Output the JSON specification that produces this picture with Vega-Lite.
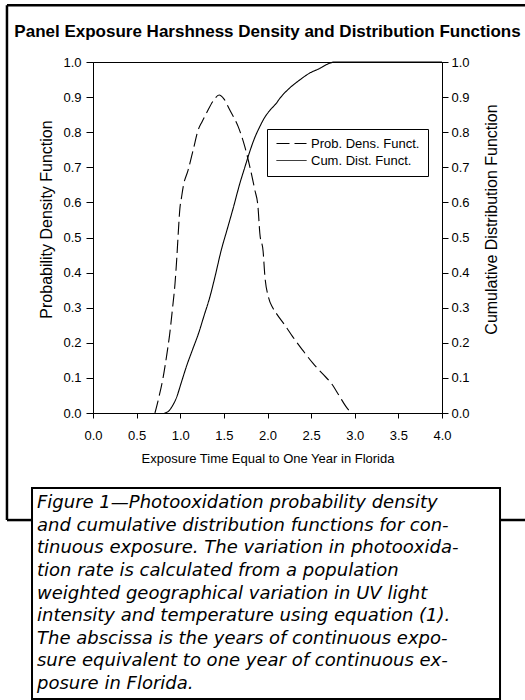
{
  "$schema": "https://vega.github.io/schema/vega-lite/v6.json",
  "width": 349,
  "height": 351,
  "autosize": {"type": "none"},
  "padding": {"left": 93, "top": 62, "right": 83, "bottom": 287},
  "background": "white",
  "config": {
    "font": "Liberation Sans",
    "view": {"stroke": "black", "strokeWidth": 1},
    "axis": {
      "domainColor": "black", "tickColor": "black", "labelColor": "black", "titleColor": "black",
      "grid": false, "labelFontSize": 13, "titleFontSize": 13, "titleFontWeight": "normal",
      "labelFont": "Liberation Sans", "titleFont": "Liberation Sans", "labelFlush": false, "labelOverlap": false
    },
    "legend": {
      "orient": "none", "legendX": 174, "legendY": 67, "strokeColor": "black", "fillColor": "white",
      "padding": 8, "symbolType": "M-1,0H5", "symbolSize": 100, "symbolStrokeWidth": 1,
      "symbolStrokeColor": "black", "symbolFillColor": "transparent", "labelFontSize": 13, "labelFont": "Liberation Sans",
      "labelColor": "black", "labelOffset": 23, "rowPadding": 3
    }
  },
  "title": {
    "text": "Panel Exposure Harshness Density and Distribution Functions",
    "fontSize": 17, "fontWeight": "bold", "font": "Liberation Sans", "anchor": "middle",
    "frame": "group", "offset": -37, "color": "black"
  },
  "datasets": {
    "curves": [
      {"series": "Prob. Dens. Funct.", "t": 0.71, "value": 0.0},
      {"series": "Prob. Dens. Funct.", "t": 0.76, "value": 0.05},
      {"series": "Prob. Dens. Funct.", "t": 0.805, "value": 0.103},
      {"series": "Prob. Dens. Funct.", "t": 0.845, "value": 0.165},
      {"series": "Prob. Dens. Funct.", "t": 0.88, "value": 0.227},
      {"series": "Prob. Dens. Funct.", "t": 0.91, "value": 0.295},
      {"series": "Prob. Dens. Funct.", "t": 0.94, "value": 0.369},
      {"series": "Prob. Dens. Funct.", "t": 0.96, "value": 0.44},
      {"series": "Prob. Dens. Funct.", "t": 0.977, "value": 0.512},
      {"series": "Prob. Dens. Funct.", "t": 0.996, "value": 0.583},
      {"series": "Prob. Dens. Funct.", "t": 1.015, "value": 0.615},
      {"series": "Prob. Dens. Funct.", "t": 1.034, "value": 0.645},
      {"series": "Prob. Dens. Funct.", "t": 1.09, "value": 0.692},
      {"series": "Prob. Dens. Funct.", "t": 1.148, "value": 0.749},
      {"series": "Prob. Dens. Funct.", "t": 1.205, "value": 0.806},
      {"series": "Prob. Dens. Funct.", "t": 1.25, "value": 0.83},
      {"series": "Prob. Dens. Funct.", "t": 1.3, "value": 0.854},
      {"series": "Prob. Dens. Funct.", "t": 1.38, "value": 0.89},
      {"series": "Prob. Dens. Funct.", "t": 1.446, "value": 0.906},
      {"series": "Prob. Dens. Funct.", "t": 1.5, "value": 0.895},
      {"series": "Prob. Dens. Funct.", "t": 1.568, "value": 0.863},
      {"series": "Prob. Dens. Funct.", "t": 1.664, "value": 0.816},
      {"series": "Prob. Dens. Funct.", "t": 1.74, "value": 0.759},
      {"series": "Prob. Dens. Funct.", "t": 1.797, "value": 0.702},
      {"series": "Prob. Dens. Funct.", "t": 1.855, "value": 0.635},
      {"series": "Prob. Dens. Funct.", "t": 1.89, "value": 0.59},
      {"series": "Prob. Dens. Funct.", "t": 1.912, "value": 0.512},
      {"series": "Prob. Dens. Funct.", "t": 1.95, "value": 0.46},
      {"series": "Prob. Dens. Funct.", "t": 1.97, "value": 0.39},
      {"series": "Prob. Dens. Funct.", "t": 2.01, "value": 0.331},
      {"series": "Prob. Dens. Funct.", "t": 2.06, "value": 0.3},
      {"series": "Prob. Dens. Funct.", "t": 2.1, "value": 0.284},
      {"series": "Prob. Dens. Funct.", "t": 2.2, "value": 0.25},
      {"series": "Prob. Dens. Funct.", "t": 2.29, "value": 0.217},
      {"series": "Prob. Dens. Funct.", "t": 2.4, "value": 0.18},
      {"series": "Prob. Dens. Funct.", "t": 2.52, "value": 0.142},
      {"series": "Prob. Dens. Funct.", "t": 2.63, "value": 0.112},
      {"series": "Prob. Dens. Funct.", "t": 2.73, "value": 0.085},
      {"series": "Prob. Dens. Funct.", "t": 2.82, "value": 0.05},
      {"series": "Prob. Dens. Funct.", "t": 2.9, "value": 0.018},
      {"series": "Prob. Dens. Funct.", "t": 2.96, "value": 0.0},
      {"series": "Cum. Dist. Funct.", "t": 0.82, "value": 0.0},
      {"series": "Cum. Dist. Funct.", "t": 0.86, "value": 0.004},
      {"series": "Cum. Dist. Funct.", "t": 0.91, "value": 0.02},
      {"series": "Cum. Dist. Funct.", "t": 0.96, "value": 0.046},
      {"series": "Cum. Dist. Funct.", "t": 1.01, "value": 0.085},
      {"series": "Cum. Dist. Funct.", "t": 1.07, "value": 0.132},
      {"series": "Cum. Dist. Funct.", "t": 1.14, "value": 0.18},
      {"series": "Cum. Dist. Funct.", "t": 1.21, "value": 0.227},
      {"series": "Cum. Dist. Funct.", "t": 1.27, "value": 0.275},
      {"series": "Cum. Dist. Funct.", "t": 1.34, "value": 0.331},
      {"series": "Cum. Dist. Funct.", "t": 1.4, "value": 0.39},
      {"series": "Cum. Dist. Funct.", "t": 1.47, "value": 0.464},
      {"series": "Cum. Dist. Funct.", "t": 1.54, "value": 0.525},
      {"series": "Cum. Dist. Funct.", "t": 1.606, "value": 0.583},
      {"series": "Cum. Dist. Funct.", "t": 1.683, "value": 0.654},
      {"series": "Cum. Dist. Funct.", "t": 1.74, "value": 0.7},
      {"series": "Cum. Dist. Funct.", "t": 1.797, "value": 0.745},
      {"series": "Cum. Dist. Funct.", "t": 1.85, "value": 0.782},
      {"series": "Cum. Dist. Funct.", "t": 1.91, "value": 0.815},
      {"series": "Cum. Dist. Funct.", "t": 1.97, "value": 0.843},
      {"series": "Cum. Dist. Funct.", "t": 2.03, "value": 0.863},
      {"series": "Cum. Dist. Funct.", "t": 2.1, "value": 0.882},
      {"series": "Cum. Dist. Funct.", "t": 2.14, "value": 0.896},
      {"series": "Cum. Dist. Funct.", "t": 2.25, "value": 0.925},
      {"series": "Cum. Dist. Funct.", "t": 2.37, "value": 0.949},
      {"series": "Cum. Dist. Funct.", "t": 2.48, "value": 0.968},
      {"series": "Cum. Dist. Funct.", "t": 2.6, "value": 0.982},
      {"series": "Cum. Dist. Funct.", "t": 2.68, "value": 0.993},
      {"series": "Cum. Dist. Funct.", "t": 2.77, "value": 1.0},
      {"series": "Cum. Dist. Funct.", "t": 4.0, "value": 1.0}
    ],
    "caption": [
      {"i": 0, "line": "Figure 1—Photooxidation probability density"},
      {"i": 1, "line": "and cumulative distribution functions for con-"},
      {"i": 2, "line": "tinuous exposure. The variation in photooxida-"},
      {"i": 3, "line": "tion rate is calculated from a population"},
      {"i": 4, "line": "weighted geographical variation in UV light"},
      {"i": 5, "line": "intensity and temperature using equation (1)."},
      {"i": 6, "line": "The abscissa is the years of continuous expo-"},
      {"i": 7, "line": "sure equivalent to one year of continuous ex-"},
      {"i": 8, "line": "posure in Florida."}
    ]
  },
  "layer": [
    {
      "layer": [
        {
          "data": {"values": [{}]},
          "mark": {"type": "rule", "color": "black", "strokeWidth": 2.5, "clip": false},
          "encoding": {
            "x": {"datum": -0.986, "type": "quantitative"},
            "y": {"datum": 1.162, "type": "quantitative", "scale": {"domain": [0, 1]}, "axis": null},
            "y2": {"datum": -0.305}
          }
        },
        {
          "data": {"values": [{}]},
          "mark": {"type": "rule", "color": "black", "strokeWidth": 2.5, "clip": false},
          "encoding": {
            "x": {"datum": -0.986, "type": "quantitative"},
            "x2": {"datum": 5.05},
            "y": {"datum": 1.162, "type": "quantitative", "scale": {"domain": [0, 1]}, "axis": null}
          }
        },
        {
          "data": {"values": [{}]},
          "mark": {"type": "rule", "color": "black", "strokeWidth": 2.5, "clip": false},
          "encoding": {
            "x": {"datum": -0.986, "type": "quantitative"},
            "x2": {"datum": -0.699},
            "y": {"datum": -0.305, "type": "quantitative", "scale": {"domain": [0, 1]}, "axis": null}
          }
        },
        {
          "data": {"values": [{}]},
          "mark": {"type": "rule", "color": "black", "strokeWidth": 2.5, "clip": false},
          "encoding": {
            "x": {"datum": 4.665, "type": "quantitative"},
            "x2": {"datum": 5.05},
            "y": {"datum": -0.305, "type": "quantitative", "scale": {"domain": [0, 1]}, "axis": null}
          }
        },
        {
          "data": {"values": [{}]},
          "mark": {"type": "rect", "fill": "white", "stroke": "black", "strokeWidth": 2, "clip": false},
          "encoding": {
            "x": {"datum": -0.699, "type": "quantitative"},
            "x2": {"datum": 4.665},
            "y": {"datum": -0.214, "type": "quantitative", "scale": {"domain": [0, 1]}, "axis": null},
            "y2": {"datum": -0.815}
          }
        }
      ]
    },
    {
      "data": {"name": "curves"},
      "transform": [{"filter": "datum.series === 'Prob. Dens. Funct.'"}],
      "mark": {"type": "line", "color": "black", "strokeWidth": 1.1, "interpolate": "monotone", "clip": false},
      "encoding": {
        "x": {
          "field": "t", "type": "quantitative",
          "scale": {"domain": [0, 4], "nice": false, "zero": false},
          "axis": {
            "title": "Exposure Time Equal to One Year in Florida",
            "values": [0, 0.5, 1, 1.5, 2, 2.5, 3, 3.5, 4], "format": ".1f",
            "tickSize": 5, "labelPadding": 11, "titlePadding": 10, "labelOverlap": false
          }
        },
        "y": {
          "field": "value", "type": "quantitative",
          "scale": {"domain": [0, 1], "nice": false},
          "axis": {
            "orient": "left", "title": "Probability Density Function",
            "values": [0, 0.1, 0.2, 0.3, 0.4, 0.5, 0.6, 0.7, 0.8, 0.9, 1], "format": ".1f",
            "tickSize": 7, "labelPadding": 5, "titlePadding": 8, "titleFontSize": 16, "titleY": 157,
            "labelOverlap": false
          }
        },
        "strokeDash": {
          "field": "series", "type": "nominal",
          "scale": {"domain": ["Prob. Dens. Funct.", "Cum. Dist. Funct."], "range": [[13, 5], [1, 0]]},
          "legend": {"title": null}
        }
      }
    },
    {
      "data": {"name": "curves"},
      "transform": [{"filter": "datum.series === 'Cum. Dist. Funct.'"}],
      "mark": {"type": "line", "color": "black", "strokeWidth": 1.1, "interpolate": "monotone", "clip": false},
      "encoding": {
        "x": {
          "field": "t", "type": "quantitative",
          "scale": {"domain": [0, 4], "nice": false, "zero": false},
          "axis": {
            "title": "Exposure Time Equal to One Year in Florida",
            "values": [0, 0.5, 1, 1.5, 2, 2.5, 3, 3.5, 4], "format": ".1f",
            "tickSize": 5, "labelPadding": 11, "titlePadding": 10, "labelOverlap": false
          }
        },
        "y": {
          "field": "value", "type": "quantitative",
          "scale": {"domain": [0, 1], "nice": false},
          "axis": {
            "orient": "right", "title": "Cumulative Distribution Function",
            "values": [0, 0.1, 0.2, 0.3, 0.4, 0.5, 0.6, 0.7, 0.8, 0.9, 1], "format": ".1f",
            "tickSize": 6, "labelPadding": 3, "titlePadding": 14, "titleFontSize": 16, "titleY": 157,
            "titleAngle": 270, "titleBaseline": "top", "labelOverlap": false
          }
        },
        "strokeDash": {"field": "series", "type": "nominal"}
      }
    },
    {
      "data": {"name": "caption"},
      "mark": {
        "type": "text", "align": "left", "baseline": "middle", "font": "DejaVu Sans",
        "fontStyle": "italic", "fontSize": 18, "color": "black", "clip": false
      },
      "encoding": {
        "x": {"datum": -0.642, "type": "quantitative"},
        "y": {"field": "i", "type": "quantitative", "scale": {"domain": [0, 8], "range": [441, 622]}, "axis": null},
        "text": {"field": "line"}
      }
    }
  ],
  "resolve": {"scale": {"y": "independent"}, "axis": {"y": "independent"}}
}
